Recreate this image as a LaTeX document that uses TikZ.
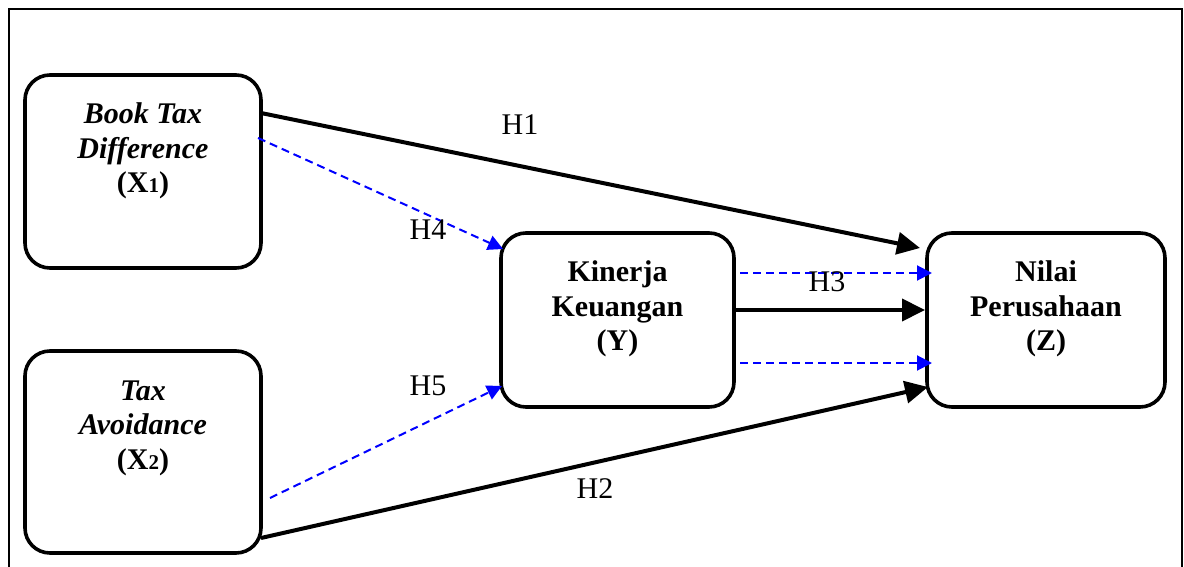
\documentclass[tikz,border=0pt]{standalone}
\usepackage{fontspec}
\setmainfont{Liberation Serif}
\usetikzlibrary{arrows.meta,calc}
\begin{document}
\begin{tikzpicture}[x=1pt,y=-1pt,
  box/.style={draw, line width=3.6pt, rounded corners=25pt, inner sep=0pt, outer sep=0pt},
  boxtext/.style={align=center, inner sep=0pt, font=\fontsize{30pt}{34.5pt}\selectfont\bfseries},
  hlabel/.style={inner sep=0pt, font=\fontsize{30pt}{34.5pt}\selectfont},
  solidarrow/.style={line width=4pt, -{Triangle[length=23pt,width=22pt]}},
  dasharrow/.style={draw=blue, line width=2pt, dash pattern=on 8pt off 5pt, -{Triangle[length=15pt,width=15pt,fill=blue]}}
]
\useasboundingbox (0,0) rectangle (1184,567);
\draw[line width=2.2pt] (9,567) -- (9,9) -- (1182,9) -- (1182,567);

% boxes
\node[box, minimum width=236pt, minimum height=193pt] (x1) at (143,171.5) {};
\node[box, minimum width=236pt, minimum height=202pt] (x2) at (143,452) {};
\node[box, minimum width=233pt, minimum height=174pt] (y) at (617.5,320) {};
\node[box, minimum width=238pt, minimum height=174pt] (z) at (1046,320) {};

% box texts
\node[boxtext] (x1t) at (143,151) {\textit{Book Tax}\\\textit{Difference}\\(X{\fontsize{21pt}{21pt}\selectfont 1})};
\node[boxtext] (x2t) at (143,428) {\textit{Tax}\\\textit{Avoidance}\\(X{\fontsize{21pt}{21pt}\selectfont 2})};
\node[boxtext] (yt) at (617.5,309) {Kinerja\\Keuangan\\(Y)};
\node[boxtext] (zt) at (1046,309) {Nilai\\Perusahaan\\(Z)};

% connectors
\draw[solidarrow] ([yshift=-38pt]x1.north east) -- ([xshift=-7pt,yshift=-15pt]z.north west);
\draw[solidarrow] ([yshift=15pt]x2.south east) -- ([xshift=1pt,yshift=20pt]z.south west);
\draw[solidarrow] ([yshift=10pt]y.east) -- ([xshift=-2pt,yshift=10pt]z.west);
\draw[dasharrow] ([xshift=-3pt,yshift=-63pt]x1.north east) -- ([xshift=2pt,yshift=-16pt]y.north west);
\draw[dasharrow] ([xshift=9pt,yshift=-147pt]x2.north east) -- ([xshift=1pt,yshift=21pt]y.south west);
\draw[dasharrow] ([xshift=6pt,yshift=47pt]y.east) -- ([xshift=5pt,yshift=47pt]z.west);
\draw[dasharrow] ([xshift=6pt,yshift=-43pt]y.east) -- ([xshift=5pt,yshift=-43pt]z.west);

% labels
\node[hlabel] (h1) at (520,125) {H1};
\node[hlabel] (h4) at (428,230) {H4};
\node[hlabel] (h5) at (428,386) {H5};
\node[hlabel] (h2) at (595,489) {H2};
\node[hlabel] (h3) at (827,282) {H3};
\end{tikzpicture}
\end{document}
